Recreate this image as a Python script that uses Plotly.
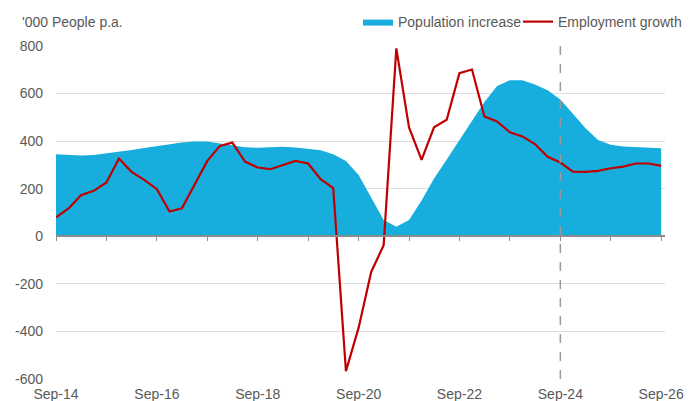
import plotly.graph_objects as go
import pandas as pd

# Quarterly data, Sep-14 to Sep-26 ('000 people p.a.)
quarters = pd.date_range('2014-09-01', '2026-09-01', freq='3MS')

population_increase = [
    345, 342, 340, 342, 348, 356, 363, 371, 379, 387,
    394, 399, 398, 390, 381, 374, 372, 373, 376, 373,
    369, 362, 345, 317, 258, 160, 68, 40, 68, 150,
    243, 323, 405, 485, 565, 632, 656, 656, 638, 614,
    575, 515, 455, 405, 385, 378, 375, 373, 370,
]

employment_growth = [
    80, 117, 173, 191, 226, 327, 271, 237, 198, 104,
    118, 219, 317, 380, 394, 314, 289, 282, 299, 317,
    306, 240, 203, -567, -384, -150, -38, 790, 458, 321,
    458, 490, 686, 701, 504, 483, 437, 420, 388, 334,
    310, 272, 271, 275, 286, 293, 306, 306, 296,
]

year_ticks = pd.date_range('2014-09-01', '2026-09-01', freq='12MS')
label_ticks = pd.date_range('2014-09-01', '2026-09-01', freq='24MS')
y_ticks = [-600, -400, -200, 0, 200, 400, 600, 800]
y_tick_labels = [str(v) for v in y_ticks]  # plain hyphen, not unicode minus
forecast_start = pd.Timestamp('2024-09-01')

y_min, y_max = -600, 800
grey_text = '#595959'
font_family = 'Liberation Sans, Arial, sans-serif'

# page body adds an 8px offset, so the figure is drawn 8px smaller
W, H = 692, 393

# Area for population, line for employment
area = go.Scatter(x=quarters, y=population_increase,
                  mode='lines', fill='tozeroy',
                  fillcolor='#17AEDD',
                  line=dict(width=0, color='#17AEDD'),
                  name='Population increase', legend='legend')

line = go.Scatter(x=quarters, y=employment_growth,
                  mode='lines',
                  line=dict(color='#C00000', width=2.2),
                  name='Employment growth', legend='legend2')

# invisible trace so the zero-line axis (x2) gets drawn
anchor = go.Scatter(x=[quarters[0]], y=[None], xaxis='x2',
                    showlegend=False, hoverinfo='skip')

fig = go.Figure(data=[area, line, anchor])

x_range = [quarters[0], pd.Timestamp('2026-09-29')]

legend_style = dict(orientation='h', xref='container', yref='container',
                    y=1 - 14 / H, xanchor='left', yanchor='middle',
                    font=dict(size=14, color=grey_text),
                    bgcolor='rgba(0,0,0,0)', itemwidth=30)

fig.update_layout(
    width=W, height=H,
    margin=dict(l=48, r=35, t=38, b=22, autoexpand=False),
    paper_bgcolor='white',
    plot_bgcolor='white',
    font=dict(family=font_family, size=14, color=grey_text),
    title=dict(text="'000 People p.a.", xref='container', yref='container',
               x=14 / W, y=1 - 14 / H, xanchor='left', yanchor='middle',
               font=dict(size=14, color=grey_text)),
    legend=dict(legend_style, x=350 / W),
    legend2=dict(legend_style, x=510 / W),
    xaxis=dict(
        type='date', range=x_range,
        tickvals=label_ticks, tickformat='%b-%y',
        showgrid=False, showline=False, zeroline=False,
        ticks='', ticklabelstandoff=5,
        tickfont=dict(size=14, color=grey_text)),
    xaxis2=dict(
        type='date', overlaying='x', anchor='free',
        position=(0 - y_min) / (y_max - y_min),
        range=x_range, tickvals=year_ticks,
        showticklabels=False, showgrid=False,
        showline=True, linecolor='#8C8C8C', linewidth=1.5,
        ticks='outside', ticklen=4, tickcolor='#8C8C8C', tickwidth=1),
    yaxis=dict(
        range=[y_min, y_max],
        tickvals=y_ticks, ticktext=y_tick_labels,
        showgrid=True, gridcolor='#DDDDDD', gridwidth=1,
        zeroline=False, showline=False, ticks='',
        ticklabelstandoff=12,
        tickfont=dict(size=14, color=grey_text)),
    showlegend=True,
)

# forecast marker
fig.add_shape(type='line', xref='x', yref='y',
              x0=forecast_start, x1=forecast_start, y0=y_min, y1=y_max,
              line=dict(color='#9A9A9A', width=1.5, dash='dash'),
              layer='above')

fig.write_html("out.html")
